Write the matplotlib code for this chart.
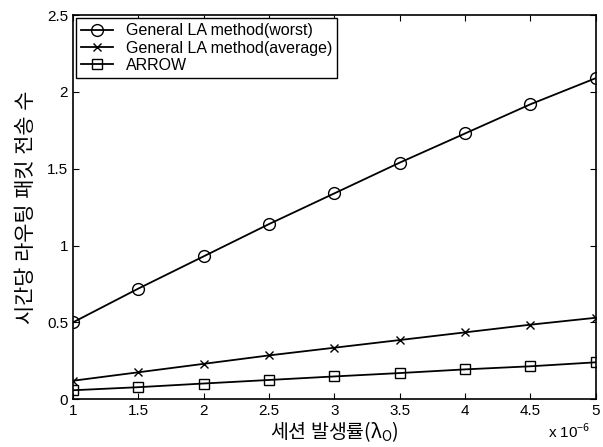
import matplotlib
matplotlib.use("Agg")
import matplotlib.pyplot as plt

plt.rcParams['font.family'] = ['Liberation Sans', 'Noto Sans CJK KR', 'DejaVu Sans']
plt.rcParams['mathtext.fontset'] = 'custom'
plt.rcParams['mathtext.rm'] = 'Noto Sans CJK KR'
plt.rcParams['mathtext.it'] = 'Noto Sans CJK KR'

# session rate in units of 1e-6
session_rate = [1.0, 1.5, 2.0, 2.5, 3.0, 3.5, 4.0, 4.5, 5.0]
la_worst = [0.50, 0.72, 0.93, 1.14, 1.34, 1.54, 1.73, 1.92, 2.09]
la_average = [0.12, 0.175, 0.23, 0.285, 0.335, 0.385, 0.435, 0.485, 0.53]
arrow = [0.058, 0.078, 0.102, 0.125, 0.148, 0.17, 0.194, 0.214, 0.24]

fig = plt.figure(figsize=(6.03, 4.47), dpi=100)
ax = fig.add_axes([0.121, 0.107, 0.867, 0.859])

ax.plot(session_rate, la_worst, color='black', marker='o', markersize=8.5,
        markerfacecolor='none', linewidth=1.3, label='General LA method(worst)')
ax.plot(session_rate, la_average, color='black', marker='x', markersize=6,
        linewidth=1.3, label='General LA method(average)')
ax.plot(session_rate, arrow, color='black', marker='s', markersize=7,
        markerfacecolor='none', linewidth=1.3, label='ARROW')

ax.set_xlim(1, 5)
ax.set_ylim(0, 2.5)
ax.set_xticks(session_rate)
ax.set_xticklabels(['1', '1.5', '2', '2.5', '3', '3.5', '4', '4.5', '5'])
ax.set_yticks([0, 0.5, 1, 1.5, 2, 2.5])
ax.set_yticklabels(['0', '0.5', '1', '1.5', '2', '2.5'])
ax.tick_params(direction='in', top=True, right=True, labelsize=11, length=4)
for s in ax.spines.values():
    s.set_linewidth(1.2)

# mathtext renders the plain part in the first family only, so name the CJK one
ax.set_xlabel('세션 발생률(λ$_{\\rm O}$)', fontsize=14, labelpad=1,
              family='Noto Sans CJK KR')
ax.set_ylabel('시간당 라우팅 패킷 전송 수', fontsize=15, labelpad=8)
ax.text(0.99, -0.085, 'x 10$^{-6}$', transform=ax.transAxes, ha='right',
        va='center', fontsize=11)

leg = ax.legend(loc='upper left', fontsize=11.5, fancybox=False, framealpha=1,
                edgecolor='black', handlelength=2.0, borderpad=0.3,
                labelspacing=0.15, borderaxespad=0.2)
leg.get_frame().set_linewidth(1.0)

fig.savefig('out.png', dpi=100)
